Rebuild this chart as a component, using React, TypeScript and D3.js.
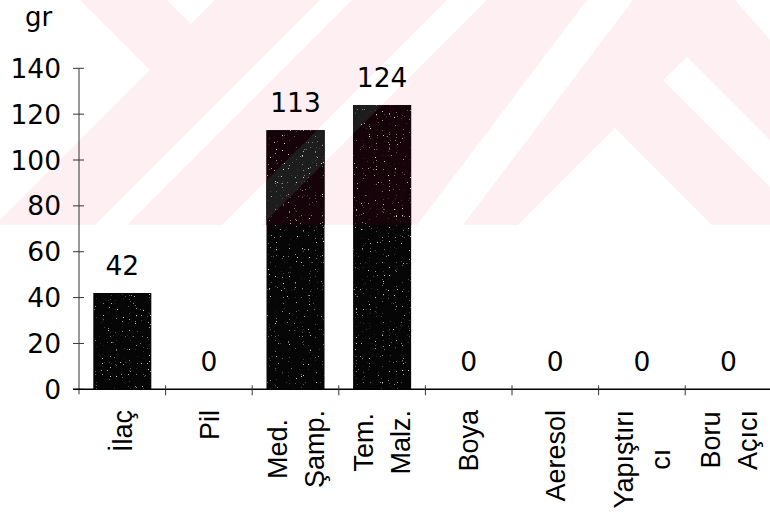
import React, { useEffect, useRef } from "react";
import * as d3 from "d3";

const categories = ["İlaç", "Pil", "Med. Şamp.", "Tem. Malz.", "Boya", "Aeresol", "Yapıştırıcı", "Boru Açıcı"];
const labelLines = [["İlaç"], ["Pil"], ["Med.", "Şamp."], ["Tem.", "Malz."], ["Boya"], ["Aeresol"], ["Yapıştırı", "cı"], ["Boru", "Açıcı"]];
const values = [42, 0, 113, 124, 0, 0, 0, 0];
const yTicks = [0, 20, 40, 60, 80, 100, 120, 140];
const unitLabel = "gr";

// faint background watermark of the scanned page (decoration, not data)
const wmHeight = 225;
const wmWhite: [number, number][][] = [
  [[0, 0], [80, 0], [150, 70], [0, 220]],
  [[167, 0], [215, 0], [191, 24]],
  [[320, 0], [352, 0], [127, 225], [95, 225]],
  [[447, 0], [487, 0], [262, 225], [222, 225]],
  [[587, 0], [633, 0], [463, 225], [417, 225]],
  [[615, 128], [712, 225], [518, 225]],
  [[663, 80], [687, 57], [770, 140], [770, 187]],
  [[735, 0], [770, 0], [770, 40]],
];

const W = 770;
const H = 516;
const FONT = "'Liberation Sans', Arial, sans-serif";
const NUMFONT = "'DejaVu Sans', Verdana, sans-serif";

export default function App() {
  const ref = useRef<SVGSVGElement | null>(null);

  useEffect(() => {
    const svg = d3.select(ref.current);
    svg.selectAll("*").remove();

    const x = d3
      .scaleBand<string>()
      .domain(categories)
      .range([79, 771.8])
      .paddingInner(0.33)
      .paddingOuter(0.165);
    const y = d3.scaleLinear().domain([0, 140]).range([389.3, 68.3]);

    const line = d3.line();

    // watermark
    const wm = svg.append("g");
    wm.append("rect").attr("x", 0).attr("y", 0).attr("width", W).attr("height", wmHeight).attr("fill", "#fdeff2");
    wm.selectAll("path.w")
      .data(wmWhite)
      .join("path")
      .attr("d", (d) => line(d) + "Z")
      .attr("fill", "#ffffff");

    // bars
    const defs = svg.append("defs");
    const clip = defs.append("clipPath").attr("id", "barsClip");
    clip
      .selectAll("rect")
      .data(values)
      .join("rect")
      .attr("x", (_, i) => x(categories[i])!)
      .attr("y", (d) => y(d))
      .attr("width", x.bandwidth())
      .attr("height", (d) => y(0) - y(d));

    const filt = defs.append("filter").attr("id", "speck").attr("x", 0).attr("y", 0).attr("width", 1).attr("height", 1);
    filt
      .append("feTurbulence")
      .attr("type", "fractalNoise")
      .attr("baseFrequency", 0.85)
      .attr("numOctaves", 1)
      .attr("seed", 7);
    filt
      .append("feColorMatrix")
      .attr("type", "matrix")
      .attr("values", "0 0 0 0 1  0 0 0 0 1  0 0 0 0 1  14 0 0 0 -9.6");

    svg
      .append("g")
      .selectAll("rect")
      .data(values)
      .join("rect")
      .attr("x", (_, i) => x(categories[i])!)
      .attr("y", (d) => y(d))
      .attr("width", x.bandwidth())
      .attr("height", (d) => y(0) - y(d))
      .attr("fill", "#060606");

    const tint = svg.append("g").attr("clip-path", "url(#barsClip)");
    tint.append("rect").attr("x", 0).attr("y", 0).attr("width", W).attr("height", wmHeight).attr("fill", "#160309");
    tint
      .selectAll("path")
      .data(wmWhite)
      .join("path")
      .attr("d", (d) => line(d) + "Z")
      .attr("fill", "#1d1d1d");
    tint
      .append("rect")
      .attr("x", 0)
      .attr("y", 0)
      .attr("width", W)
      .attr("height", H)
      .attr("filter", "url(#speck)")
      .attr("opacity", 0.8);

    // y axis
    const axisG = svg.append("g").attr("stroke", "#333").attr("stroke-width", 1);
    axisG.append("line").attr("x1", 79).attr("x2", 79).attr("y1", y(140)).attr("y2", y(0) + 5);
    axisG
      .selectAll("line.yt")
      .data(yTicks)
      .join("line")
      .attr("class", "yt")
      .attr("x1", 73)
      .attr("x2", 84)
      .attr("y1", (d) => y(d))
      .attr("y2", (d) => y(d));

    svg
      .append("g")
      .selectAll("text")
      .data(yTicks)
      .join("text")
      .attr("x", 61)
      .attr("y", (d) => y(d) + 9.6)
      .attr("text-anchor", "end")
      .attr("font-family", NUMFONT)
      .attr("font-size", 26.5)
      .attr("fill", "#000")
      .text((d) => String(d));

    // x axis
    const step = x.step();
    const x0 = x.range()[0];
    axisG.append("line").attr("x1", 73).attr("x2", W).attr("y1", y(0)).attr("y2", y(0)).attr("stroke", "#000").attr("stroke-width", 1.5);
    axisG
      .selectAll("line.xt")
      .data(d3.range(1, categories.length + 1))
      .join("line")
      .attr("class", "xt")
      .attr("x1", (k) => x0 + k * step)
      .attr("x2", (k) => x0 + k * step)
      .attr("y1", y(0) - 4)
      .attr("y2", y(0) + 6);

    // value labels
    svg
      .append("g")
      .selectAll("text")
      .data(values)
      .join("text")
      .attr("x", (_, i) => x(categories[i])! + x.bandwidth() / 2)
      .attr("y", (d) => y(d) - 18)
      .attr("text-anchor", "middle")
      .attr("font-family", NUMFONT)
      .attr("font-size", 26.5)
      .attr("fill", "#000")
      .text((d) => String(d));

    // unit label
    svg
      .append("text")
      .attr("x", 25)
      .attr("y", 26)
      .attr("font-family", NUMFONT)
      .attr("font-size", 26)
      .attr("fill", "#000")
      .text(unitLabel);

    // category labels (rotated)
    const lineGap = 37;
    const capHalf = 9.7;
    const topY = 410;
    const catG = svg.append("g");
    categories.forEach((c, i) => {
      const lines = labelLines[i];
      const cx = x(c)! + x.bandwidth() / 2;
      const n = lines.length;
      const texts = lines.map((t, j) => {
        const bx = cx + (j - (n - 1) / 2) * lineGap + capHalf;
        return catG
          .append("text")
          .attr("font-family", FONT)
          .attr("font-size", 27)
          .attr("fill", "#000")
          .attr("text-anchor", "middle")
          .attr("data-bx", bx)
          .text(t);
      });
      const lens = texts.map((t) => (t.node() as SVGTextElement).getComputedTextLength());
      const maxLen = Math.max(...lens);
      const midY = topY + maxLen / 2;
      texts.forEach((t) => {
        const bx = +t.attr("data-bx");
        t.attr("transform", `translate(${bx},${midY}) rotate(-90)`);
      });
    });
  }, []);

  return (
    <svg
      ref={ref}
      width={W}
      height={H}
      style={{ position: "absolute", left: 0, top: 0, background: "#fff" }}
    />
  );
}
